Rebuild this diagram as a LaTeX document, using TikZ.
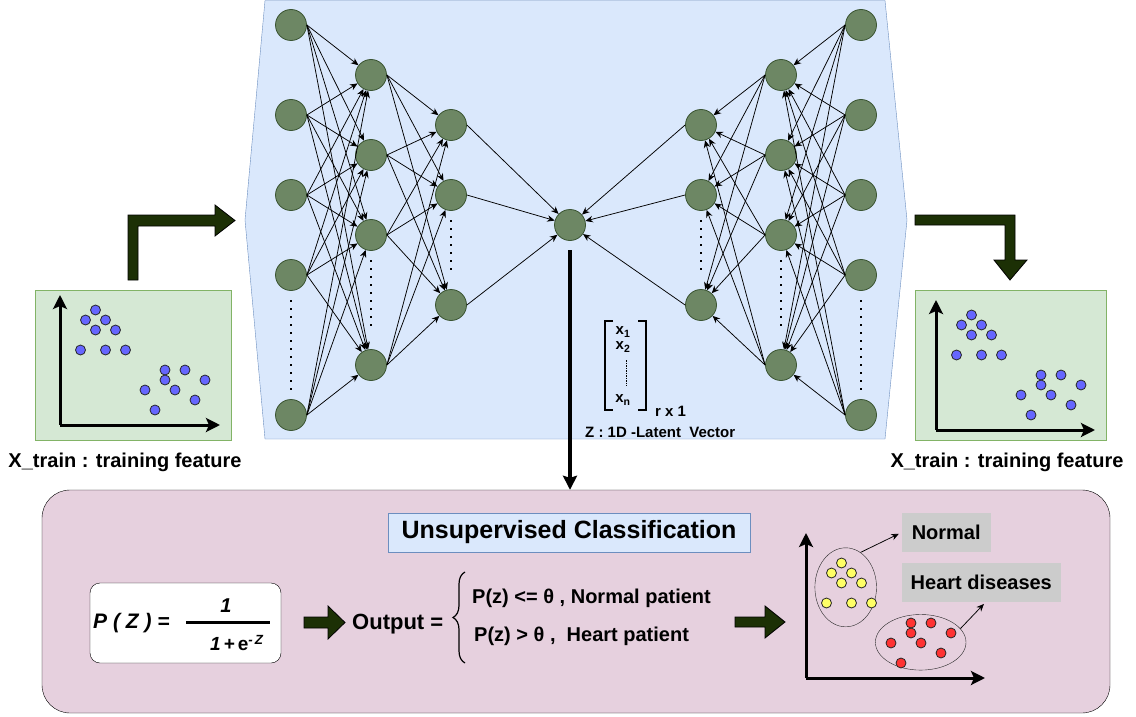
\documentclass[tikz,border=0pt]{standalone}
\usepackage{fontspec}
\setmainfont{Liberation Sans}
\usepackage{tikz}
\usetikzlibrary{arrows.meta, calc, shapes.geometric, decorations.pathreplacing}

\definecolor{panelblue}{HTML}{DAE8FC}
\definecolor{edgeblue}{HTML}{6C8EBF}
\definecolor{panelgreen}{HTML}{D5E8D4}
\definecolor{edgegreen}{HTML}{82B366}
\definecolor{neuron}{HTML}{6D8764}
\definecolor{neuronedge}{HTML}{3A5431}
\definecolor{panelpink}{HTML}{E6D0DE}
\definecolor{arrowgreen}{HTML}{1C3005}
\definecolor{dotblue}{HTML}{6666FF}
\definecolor{dotyellow}{HTML}{FFFF66}
\definecolor{dotred}{HTML}{FF3333}
\definecolor{taggray}{HTML}{CCCCCC}

\newcommand{\clusters}[4]{%
  \begin{scope}[shift={(#1,#2)}]
    \foreach \dx/\dy in {35.5/-115,25.5/-105,45.5/-105,35.5/-95,55.5/-95,20.5/-75,45.5/-75,65.5/-75}
      \filldraw[fill=#3, draw=black!85, line width=0.8] (\dx,\dy) circle (5pt);
    \foreach \dx/\dy in {105/-55,125/-55,105/-45,145/-45,85/-35,115/-35,135/-25,95/-15}
      \filldraw[fill=#4, draw=black!85, line width=0.8] (\dx,\dy) circle (5pt);
  \end{scope}%
}

\begin{document}
\begin{tikzpicture}[x=1pt, y=-1pt,
  neuron/.style={circle, fill=neuron, draw=neuronedge, line width=0.8, minimum size=31pt, inner sep=0pt},
  link/.style={-{Stealth[length=7.5pt, width=6.5pt]}, line width=0.75},
  vdots/.style={line width=2, dash pattern=on 1.5pt off 6.5pt},
  blockarrow/.style={fill=arrowgreen, draw=black, line width=0.8},
  axis/.style={line width=3, -{Stealth[length=14pt, width=14pt, inset=3pt]}},
  gpanel/.style={draw=edgegreen, fill=panelgreen, minimum height=150pt, inner sep=0pt},
  lbl/.style={font=\bfseries\fontsize{20}{24}\selectfont, inner sep=0pt},
  small/.style={font=\bfseries\fontsize{15}{18}\selectfont, inner sep=0pt},
  tag/.style={fill=taggray, minimum height=39.6pt, inner sep=0pt, font=\bfseries\fontsize{20}{24}\selectfont}]
\useasboundingbox (0,0) rectangle (1136,717);

\draw[fill=panelblue, draw=edgeblue] (265,0.5) -- (885,0.5) -- (907,220) -- (885,439) -- (265,439) -- (245,220) -- cycle;

\foreach \y [count=\i] in {25,115,195,275,415} {
  \node[neuron] (in\i) at (291,\y) {};
  \node[neuron] (out\i) at (861,\y) {};
}
\foreach \y [count=\i] in {75,155,235,365} {
  \node[neuron] (ha\i) at (371,\y) {};
  \node[neuron] (hd\i) at (781,\y) {};
}
\foreach \y [count=\i] in {125,195,305} {
  \node[neuron] (hb\i) at (451,\y) {};
  \node[neuron] (hc\i) at (701,\y) {};
}
\node[neuron] (z) at (570,225) {};

\foreach \i in {1,...,5} \foreach \j in {1,...,4} {
  \draw[link] (in\i.east) -- (ha\j);
  \draw[link] (out\i.west) -- (hd\j);
}
\foreach \i in {1,...,4} \foreach \j in {1,2,3} {
  \draw[link] (ha\i.east) -- (hb\j);
  \draw[link] (hd\i.west) -- (hc\j);
}
\foreach \i in {1,2,3} {
  \draw[link] (hb\i.east) -- (z);
  \draw[link] (hc\i.west) -- (z);
}

\draw[vdots] (291,300) -- (291,392);
\draw[vdots] (371,260) -- (371,328);
\draw[vdots] (451,220) -- (451,272);
\draw[vdots] (701,220) -- (701,272);
\draw[vdots] (781,260) -- (781,328);
\draw[vdots] (861,300) -- (861,392);

\draw[line width=2.5] (613,321) -- (605,321) -- (605,410) -- (613,410);
\draw[line width=2.5] (638,321) -- (646,321) -- (646,410) -- (638,410);
\node[small] (x1) at (623,332) {x\textsubscript{1}};
\node[small] (x2) at (623,347) {x\textsubscript{2}};
\draw[line width=0.7, dash pattern=on 1.5pt off 1pt] (626,360) -- (626,386);
\node[small] (xn) at (623,400) {x\textsubscript{n}};
\node[small, anchor=west] (rx1) at (655,411) {r x 1};
\node[small, anchor=west] (zlabel) at (585,432) {Z : 1D -Latent\ \ Vector};

\node[gpanel, minimum width=196pt] (trainL) at (133,365) {};
\node[gpanel, minimum width=191pt] (trainR) at (1010.5,365) {};
\draw[axis] (60,425) -- (60,295);
\draw[axis] (60,425) -- (220,425);
\draw[axis] (936,430) -- (936,300);
\draw[axis] (936,430) -- (1095,430);
\clusters{60}{425}{dotblue}{dotblue}
\clusters{936}{430}{dotblue}{dotblue}
\node[lbl] (featL) at (125,462) {X\_train : training feature};
\node[lbl] (featR) at (1007,462) {X\_train : training feature};

\draw[blockarrow] (128,280) -- (128,215) -- (215,215) -- (215,205) -- (235,220.5) -- (215,236) -- (215,226) -- (138,226) -- (138,280) -- cycle;
\draw[blockarrow] (915,215) -- (1015,215) -- (1015,260) -- (1027,260) -- (1010,280) -- (994,260) -- (1005,260) -- (1005,225) -- (915,225) -- cycle;

\node[draw=black, fill=panelpink, rounded corners=28pt, minimum width=1068pt, minimum height=223pt, inner sep=0pt] (clsbox) at (576,601.5) {};
\coordinate (zdown) at (570,250);
\draw[line width=4, -{Stealth[length=14pt, width=14pt, inset=2pt]}] (zdown) -- (zdown |- clsbox.north);

\node[draw=edgeblue, fill=panelblue, minimum width=362pt, minimum height=39.6pt, inner sep=0pt, font=\bfseries\fontsize{25}{30}\selectfont] (title) at (569,532.5) {Unsupervised Classification};

\node[draw=black, fill=white, rounded corners=10pt, minimum width=191pt, minimum height=80pt, inner sep=0pt] (fbox) at (185.5,623) {};
\node[lbl, anchor=west, font=\bfseries\itshape\fontsize{21}{24}\selectfont] (pz) at (93,623) {P ( Z ) =};
\node[lbl] (num) at (226,606) {\itshape 1};
\draw[line width=3] (186,622) -- (270,622);
\node[lbl, font=\bfseries\fontsize{19}{22}\selectfont] (den) at (237,643) {\textit{1}\hspace{3pt}\textit{+}\hspace{3pt}e\textsuperscript{\textit{-\hspace{2pt}Z}}};

\draw[blockarrow] (304,617) -- (328,617) -- (328,606) -- (345,622.5) -- (328,639) -- (328,628) -- (304,628) -- cycle;
\node[lbl, anchor=west, font=\bfseries\fontsize{22}{26}\selectfont] (outp) at (352,624) {Output =};
\draw[line width=1.2, decorate, decoration={brace, amplitude=12pt}] (465,663) -- (465,572);
\node[lbl, anchor=west] (case1) at (472,598) {P(z) <= θ , Normal patient};
\node[lbl, anchor=west] (case2) at (474,636) {P(z) > θ ,\ \ Heart patient};

\draw[blockarrow] (735,617) -- (765,617) -- (765,606) -- (785,622) -- (765,638) -- (765,627) -- (735,627) -- cycle;

\draw[axis] (806,678) -- (806,533);
\draw[axis] (806,678) -- (985,678);
\node[ellipse, draw=black!85, minimum width=61.6pt, minimum height=79pt, inner sep=0pt] (ellnorm) at (845.7,587.3) {};
\node[ellipse, draw=black!85, minimum width=90.6pt, minimum height=55.6pt, inner sep=0pt] (ellheart) at (920.7,642.3) {};
\clusters{806}{678}{dotyellow}{dotred}

\node[tag, minimum width=89pt] (normal) at (946.2,532.5) {Normal};
\node[tag, minimum width=159.3pt] (heart) at (981.3,582.5) {Heart diseases};
\draw[link, shorten >=3pt] (ellnorm.67) -- (normal.west);
\draw[link, shorten >=2pt] (ellheart.19) -- ([xshift=4pt]heart.south);
\end{tikzpicture}
\end{document}
